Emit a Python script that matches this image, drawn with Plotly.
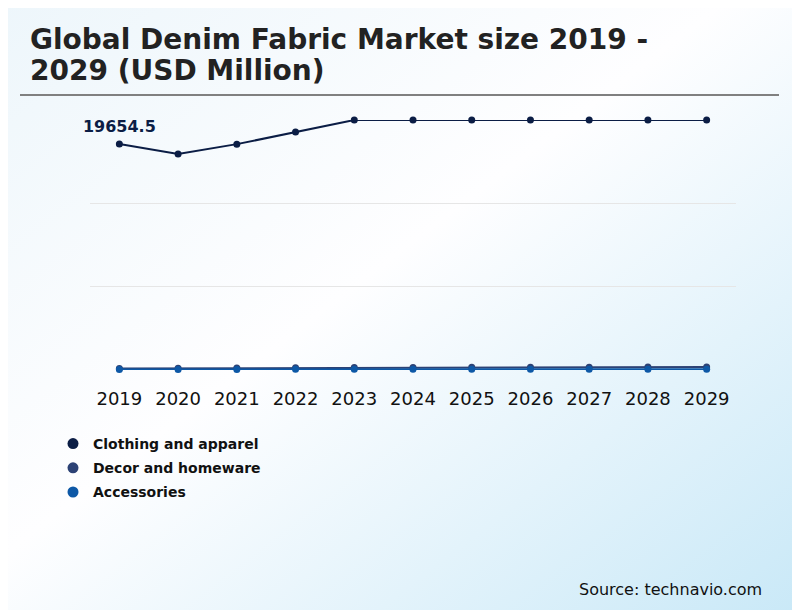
import base64
import plotly.graph_objects as go

years = ["2019", "2020", "2021", "2022", "2023", "2024", "2025", "2026", "2027", "2028", "2029"]
clothing = [19654.5, 18790, 19650, 20700, 21750, 21750, 21750, 21750, 21750, 21750, 21750]
decor = [130, 150, 170, 190, 210, 220, 230, 240, 250, 260, 270]
accessories = [40, 45, 50, 55, 60, 62, 64, 66, 68, 70, 72]

series = [
    ("Clothing and apparel", clothing, "#0b1d45"),
    ("Decor and homeware", decor, "#2c4275"),
    ("Accessories", accessories, "#0d58a6"),
]
title_lines = ["Global Denim Fabric Market size 2019 -", "2029 (USD Million)"]

# page has an 8px body margin, so everything is placed 8px up/left
W, H = 800, 610

# diagonal background gradient as an inline svg
svg = (
    '<svg xmlns="http://www.w3.org/2000/svg" width="800" height="610">'
    '<defs><linearGradient id="g" x1="0" y1="0" x2="1" y2="1">'
    '<stop offset="0" stop-color="#edf6fb"/>'
    '<stop offset="0.45" stop-color="#fefeff"/>'
    '<stop offset="1" stop-color="#c8e8f7"/>'
    '</linearGradient></defs>'
    '<rect width="800" height="610" fill="url(#g)"/></svg>'
)
bg = "data:image/svg+xml;base64," + base64.b64encode(svg.encode()).decode()

fig = go.Figure()

for name, vals, col in series:
    fig.add_trace(go.Scatter(
        x=years, y=vals, mode="lines+markers", name=name,
        line=dict(color=col, width=2), marker=dict(color=col, size=7),
        showlegend=False, cliponaxis=False, legendgroup=name,
    ))
for name, vals, col in series:
    fig.add_trace(go.Scatter(
        x=[None], y=[None], mode="markers", name="<b>" + name + "</b>",
        marker=dict(color=col, size=11), legendgroup=name,
    ))

# data label on the first point (invisible marker pushes the text up)
fig.add_trace(go.Scatter(
    x=[years[0]], y=[clothing[0]], mode="markers+text", text=["<b>%.1f</b>" % clothing[0]],
    textposition="top center", showlegend=False, cliponaxis=False,
    marker=dict(size=11, color="rgba(0,0,0,0)"),
    textfont=dict(family="DejaVu Sans", size=16, color="#0b1d45"),
    hoverinfo="skip",
))

fig.add_layout_image(
    source=bg, xref="paper", yref="paper",
    x=-90 / 646, y=1 + 120 / 250, sizex=810 / 646, sizey=620 / 250,
    xanchor="left", yanchor="top", sizing="stretch", layer="below",
)

fig.add_shape(type="line", xref="paper", yref="paper",
              x0=-70 / 646, x1=689 / 646, y0=1 + 25 / 250, y1=1 + 25 / 250,
              line=dict(color="#808080", width=2))

for i, line in enumerate(title_lines):
    fig.add_annotation(
        xref="paper", yref="paper", x=-62 / 646, y=1 + (80 - 30 * i) / 250,
        xanchor="left", yanchor="middle", showarrow=False,
        text="<b>" + line + "</b>",
        font=dict(family="DejaVu Sans", size=28, color="#222222"),
    )

fig.add_annotation(
    xref="paper", yref="paper", x=674 / 646, y=-219 / 250,
    xanchor="right", yanchor="middle", showarrow=False,
    text="Source: technavio.com",
    font=dict(family="DejaVu Sans", size=16, color="#111111"),
)

fig.update_layout(
    width=W, height=H,
    margin=dict(l=82, r=72, t=112, b=248),
    paper_bgcolor="white", plot_bgcolor="rgba(0,0,0,0)",
    font=dict(family="DejaVu Sans", color="#111111"),
    xaxis=dict(
        type="category", range=[-0.5, 10.5], showgrid=False, zeroline=False,
        showline=False, ticks="", ticklabelstandoff=16,
        tickfont=dict(size=18, color="#111111"),
    ),
    yaxis=dict(
        range=[0, 21750], dtick=7250, showticklabels=False, zeroline=False,
        gridcolor="#e6e6e6", gridwidth=1,
    ),
    legend=dict(
        x=-37 / 646, y=-58 / 250, xanchor="left", yanchor="top",
        bgcolor="rgba(0,0,0,0)", font=dict(family="DejaVu Sans", size=14, color="#111111"),
        itemwidth=30, tracegroupgap=3,
    ),
)

fig.write_html("out.html")
